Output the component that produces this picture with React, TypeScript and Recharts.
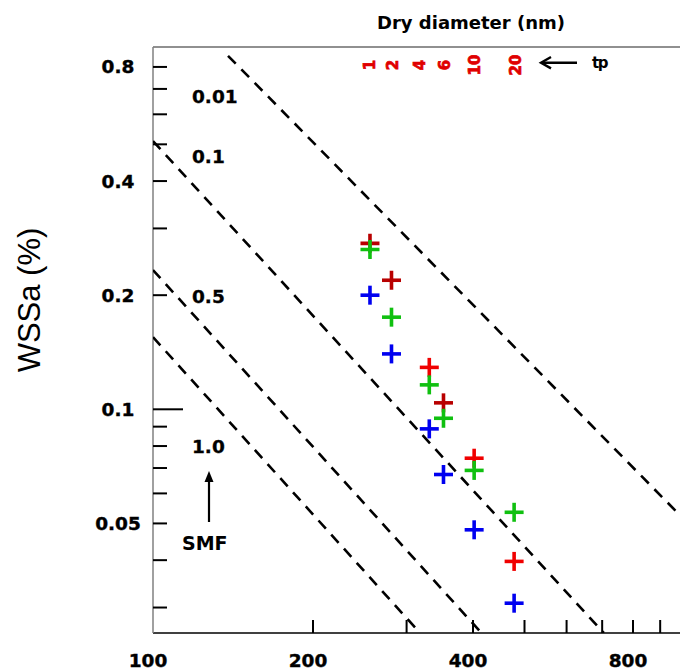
import React from 'react';
import { ScatterChart, Scatter, XAxis, YAxis, Customized } from 'recharts';

const FONT = '"DejaVu Sans", sans-serif';

// Dry diameter (nm) columns and WSSa (%) values
const darkRedX = [256, 281, 352];
const darkRedY = [0.274, 0.219, 0.104];
const redX = [331, 402, 478];
const redY = [0.129, 0.0743, 0.0397];
const greenX = [256, 281, 331, 352, 402, 478];
const greenY = [0.264, 0.175, 0.116, 0.0947, 0.069, 0.0535];
const blueX = [256, 281, 331, 352, 402, 478];
const blueY = [0.2, 0.14, 0.0888, 0.0673, 0.0481, 0.0308];

// kappa iso-lines (start / end points)
const kappaLabels = ['0.01', '0.1', '0.5', '1.0'];
const kappaStartX = [138.4, 100, 100, 100];
const kappaStartY = [0.856, 0.51, 0.233, 0.155];
const kappaEndX = [1000, 705, 415, 318];
const kappaEndY = [0.0511, 0.0257, 0.0257, 0.0257];

// processing time labels on top
const tpLabels = ['1', '2', '4', '6', '10', '20'];
const tpX = [256, 282, 317, 353, 403, 482];

const xTicks = [100, 200, 300, 400, 500, 600, 700, 800, 900];
const xTickLabels = [100, 200, 400, 800];
const yTicks = [0.8, 0.7, 0.6, 0.5, 0.4, 0.3, 0.2, 0.1, 0.09, 0.08, 0.07, 0.06, 0.05, 0.04, 0.03];
const yTickLabels = [0.8, 0.4, 0.2, 0.1, 0.05];

const toPts = (xs: number[], ys: number[]) => xs.map((x, i) => ({ x, y: ys[i] }));

const plus = (color: string) => (props: any) => {
  const { cx, cy } = props;
  if (cx == null || cy == null) return <g />;
  const h = 9.5;
  return (
    <g>
      <line x1={cx - h} x2={cx + h} y1={cy} y2={cy} stroke={color} strokeWidth={3.6} />
      <line x1={cx} x2={cx} y1={cy - h} y2={cy + h} stroke={color} strokeWidth={3.6} />
    </g>
  );
};

const BottomTick = (props: any) => {
  const { x, y, payload } = props;
  const v = payload.value;
  return (
    <g>
      {v !== 100 && <line x1={x} x2={x} y1={y} y2={y - 13} stroke="#000" strokeWidth={2} />}
      {xTickLabels.includes(v) && (
        <text x={x - 5} y={y + 34} textAnchor="middle" fontFamily={FONT} fontWeight="bold" fontSize={18.5} fill="#000" stroke="#000" strokeWidth={0.4}>
          {v}
        </text>
      )}
    </g>
  );
};

const LeftTick = (props: any) => {
  const { x, y, payload } = props;
  const v = payload.value;
  const len = v === 0.1 ? 30 : 14;
  return (
    <g>
      <line x1={x} x2={x + len} y1={y} y2={y} stroke="#000" strokeWidth={2} />
      {yTickLabels.includes(v) && (
        <text x={110} y={y + 6.5} textAnchor="middle" fontFamily={FONT} fontWeight="bold" fontSize={18.5} fill="#000" stroke="#000" strokeWidth={0.4}>
          {String(v)}
        </text>
      )}
    </g>
  );
};

const TopTick = (props: any) => {
  const { x, y, payload } = props;
  const i = tpX.indexOf(payload.value);
  if (i < 0) return <g />;
  const ty = y + 18;
  return (
    <text
      x={x}
      y={ty}
      dy="0.36em"
      textAnchor="middle"
      transform={`rotate(-90 ${x} ${ty})`}
      fontFamily={FONT}
      fontWeight="bold"
      fontSize={15}
      fill="#e00000"
      stroke="#e00000"
      strokeWidth={0.7}
    >
      {tpLabels[i]}
    </text>
  );
};

const kappaLabelY = [95, 155, 295, 445];

const Annotations = () => (
  <g>
    <text x={463} y={21} textAnchor="middle" fontFamily={FONT} fontWeight="bold" fontSize={18} fill="#000">
      Dry diameter (nm)
    </text>
    <text
      x={21}
      y={292}
      dy="0.35em"
      textAnchor="middle"
      transform="rotate(-90 21 292)"
      fontFamily='"Liberation Sans", Arial, sans-serif'
      fontSize={31}
      fill="#000"
    >
      WSSa (%)
    </text>
    {kappaLabels.map((k, i) => (
      <text key={k} x={184} y={kappaLabelY[i]} fontFamily={FONT} fontWeight="bold" fontSize={18.5} fill="#000" stroke="#000" strokeWidth={0.3}>
        {k}
      </text>
    ))}
    <text x={174} y={542} fontFamily={FONT} fontWeight="bold" fontSize={19} fill="#000">
      SMF
    </text>
    <line x1={201} x2={201} y1={514} y2={468} stroke="#000" strokeWidth={2.2} />
    <polygon points="201,463 196.5,474 205.5,474" fill="#000" />
    <line x1={569} x2={534} y1={54.7} y2={54.7} stroke="#000" strokeWidth={2.4} />
    <polyline points="543,49 533,54.7 543,60.4" fill="none" stroke="#000" strokeWidth={2.4} />
    <text x={584} y={60} fontFamily={FONT} fontWeight="bold" fontSize={15} fill="#000" letterSpacing={-1.5}>
      tp
    </text>
  </g>
);

export default function App() {
  return (
    <div style={{ position: 'absolute', left: 0, top: 0, width: 680, height: 670, overflow: 'hidden', background: '#fff' }}>
      <div style={{ position: 'absolute', left: 8, top: 8 }}>
        <ScatterChart width={700} height={662} margin={{ top: 0, right: 23.5, bottom: 0, left: 0 }}>
          <XAxis
            xAxisId="bottom"
            dataKey="x"
            type="number"
            scale="log"
            domain={[100, 1000]}
            allowDataOverflow
            ticks={xTicks}
            interval={0}
            tickSize={0}
            tickMargin={0}
            tickLine={false}
            tick={<BottomTick />}
            height={37}
            axisLine={{ stroke: '#000', strokeWidth: 1.5 }}
          />
          <XAxis
            xAxisId="top"
            orientation="top"
            dataKey="x"
            type="number"
            scale="log"
            domain={[100, 1000]}
            allowDataOverflow
            ticks={tpX}
            interval={0}
            tickSize={0}
            tickMargin={0}
            tickLine={false}
            tick={<TopTick />}
            height={39}
            axisLine={{ stroke: '#222', strokeWidth: 1.2 }}
          />
          <YAxis
            dataKey="y"
            type="number"
            scale="log"
            domain={[0.0257, 0.903]}
            allowDataOverflow
            ticks={yTicks}
            interval={0}
            tickSize={0}
            tickMargin={0}
            tickLine={false}
            tick={<LeftTick />}
            width={145}
            axisLine={{ stroke: '#808080', strokeWidth: 1.5 }}
          />
          {kappaLabels.map((k, i) => (
            <Scatter
              key={'k' + k}
              xAxisId="bottom"
              data={[
                { x: kappaStartX[i], y: kappaStartY[i] },
                { x: kappaEndX[i], y: kappaEndY[i] },
              ]}
              fill="#000"
              line={{ stroke: '#000', strokeWidth: 2.6, strokeDasharray: '11 8', fill: 'none' }}
              shape={() => <g />}
              isAnimationActive={false}
            />
          ))}
          <Scatter xAxisId="bottom" data={toPts(darkRedX, darkRedY)} fill="#b80000" shape={plus('#b80000')} isAnimationActive={false} />
          <Scatter xAxisId="bottom" data={toPts(redX, redY)} fill="#f00000" shape={plus('#f00000')} isAnimationActive={false} />
          <Scatter xAxisId="bottom" data={toPts(greenX, greenY)} fill="#10c010" shape={plus('#10c010')} isAnimationActive={false} />
          <Scatter xAxisId="bottom" data={toPts(blueX, blueY)} fill="#0000f0" shape={plus('#0000f0')} isAnimationActive={false} />
          <Customized component={Annotations} />
        </ScatterChart>
      </div>
    </div>
  );
}
